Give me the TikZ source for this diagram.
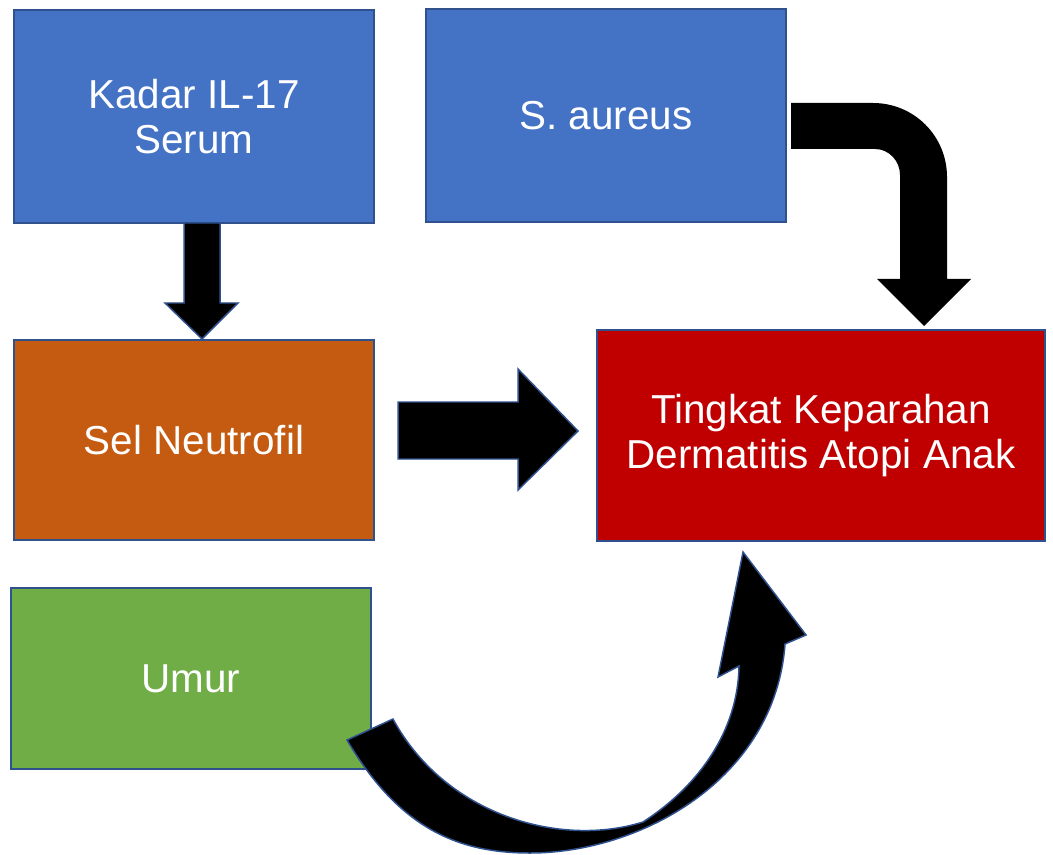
\documentclass[tikz,border=0pt]{standalone}
\usepackage{fontspec}
\setmainfont{Liberation Sans}
\usetikzlibrary{calc}
\definecolor{boxblue}{HTML}{4472C4}
\definecolor{edgeblue}{HTML}{2F528F}
\definecolor{boxorange}{HTML}{C55A11}
\definecolor{boxred}{HTML}{C00000}
\definecolor{boxgreen}{HTML}{70AD47}
\begin{document}
\begin{tikzpicture}[x=0.02cm, y=-0.02cm,
    box/.style={rectangle, draw=edgeblue, line width=0.85pt, text=white,
                align=center, inner sep=0pt,
                font=\fontsize{23}{26}\selectfont},
    blockarrow/.style={fill=black, draw=edgeblue, line width=0.85pt,
                line join=miter}]
    \useasboundingbox (0,0) rectangle (1053,854);

    % Variables
    \node[box, fill=boxblue, minimum width=7.2cm, minimum height=4.26cm]
      (kadar) at (194,116.5) {Kadar IL-17\\Serum};
    \node[box, fill=boxblue, minimum width=7.2cm, minimum height=4.26cm]
      (saureus) at (606,115.5) {S. aureus};
    \node[box, fill=boxorange, minimum width=7.2cm, minimum height=4cm]
      (neutro) at (194,440) {Sel Neutrofil};
    \node[box, fill=boxred, minimum width=8.96cm, minimum height=4.22cm]
      (tingkat) at (821,435.5) {Tingkat Keparahan\\Dermatitis Atopi Anak};
    \node[box, fill=boxgreen, minimum width=7.2cm, minimum height=3.62cm]
      (umur) at (191,678.5) {Umur};

    % Kadar -> Neutrofil
    \draw[blockarrow] (184,223) -- (220,223) -- (220,303) -- (238,303)
      -- (202,339) -- (165,303) -- (184,303) -- cycle;

    % Neutrofil -> Tingkat
    \draw[blockarrow] (398,402) -- (518,402) -- (518,369) -- (578,431)
      -- (518,490) -- (518,459) -- (398,459) -- cycle;

    % S. aureus -> Tingkat (bent)
    \fill[black] (791,103) -- (873,103)
      .. controls (914,103) and (947,136) .. (947,177)
      -- (947,279) -- (971,279) -- (924,326) -- (877,279) -- (900,279)
      -- (900,175) .. controls (900,161) and (889,149) .. (875,149)
      -- (791,149) -- cycle;

    % Umur -> Tingkat (curved)
    \draw[blockarrow] (347,740)
      .. controls (400,830) and (460,853) .. (530,853)
      .. controls (640,853) and (775,780) .. (785,644)
      -- (806,635) -- (743,552) -- (718,677) -- (739,666)
      .. controls (738,730) and (700,785) .. (643,822)
      .. controls (560,848) and (445,815) .. (393,719) -- cycle;
\end{tikzpicture}
\end{document}
